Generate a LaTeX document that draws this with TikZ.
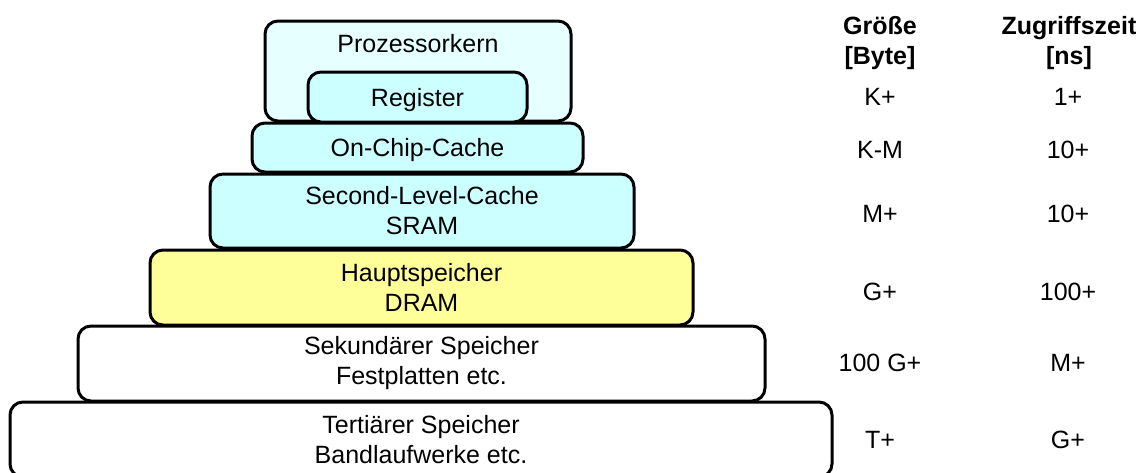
\documentclass[tikz,border=0pt]{standalone}
\usepackage{fontspec}
\setmainfont{Liberation Sans}
\definecolor{corefill}{HTML}{E6FFFF}
\definecolor{cachefill}{HTML}{CCFFFF}
\definecolor{ramfill}{HTML}{FFFF99}
\begin{document}
\begin{tikzpicture}[x=1pt,y=-1pt,
  every node/.style={font=\fontsize{25}{30}\selectfont, inner sep=0pt},
  level/.style={draw=black, line width=3pt, rounded corners=13pt,
    align=center, minimum width=#1},
  oneline/.style={text depth=0pt},
  hdr/.style={font=\fontsize{25}{30}\selectfont\bfseries, align=center}]
\useasboundingbox (0,0) rectangle (1145,472);
\clip (0,0) rectangle (1145,472);
% memory hierarchy, from the processor core downwards
\node[level=306pt, minimum height=100pt, fill=corefill] (core) at (418,71) {};
\node[anchor=base] (coretext) at (418,52) {Prozessorkern};
\node[level=219pt, minimum height=50pt, fill=cachefill, oneline] (reg) at (417.5,97) {Register};
\node[level=331pt, minimum height=49pt, fill=cachefill, oneline] (l1) at (417.5,147.5) {On-Chip-Cache};
\node[level=424pt, minimum height=74pt, fill=cachefill] (l2) at (422,211) {Second-Level-Cache\\SRAM};
\node[level=543pt, minimum height=75pt, fill=ramfill] (ram) at (421.5,287.5) {Hauptspeicher\\DRAM};
\node[level=687pt, minimum height=75pt, fill=white] (disk) at (421.5,363.5) {Sekundärer Speicher\\Festplatten etc.};
\node[level=822pt, minimum height=75pt, fill=white] (tape) at (421,439.5) {Tertiärer Speicher\\Bandlaufwerke etc.};
% size and access time columns
\node[hdr] (hsize) at (880,43) {Größe\\{}[Byte]};
\node[hdr] (htime) at (1069,43) {Zugriffszeit\\{}[ns]};
\node (s1) at (880,97) {K+};      \node (t1) at (1068,97) {1+};
\node (s2) at (880,150) {K-M};    \node (t2) at (1068,150) {10+};
\node (s3) at (880,214) {M+};     \node (t3) at (1068,214) {10+};
\node (s4) at (880,292) {G+};     \node (t4) at (1068,292) {100+};
\node (s5) at (880,363) {100 G+}; \node (t5) at (1068,363) {M+};
\node (s6) at (880,440) {T+};     \node (t6) at (1068,440) {G+};
\end{tikzpicture}
\end{document}
